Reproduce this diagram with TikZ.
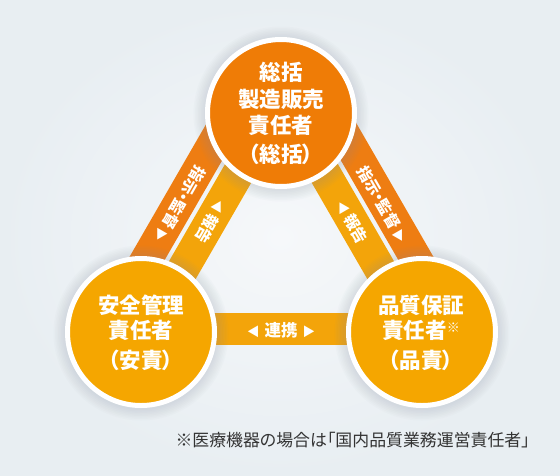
\documentclass[tikz,border=0pt]{standalone}
\usepackage{fontspec}
\newfontfamily\jp{Noto Sans CJK JP}
\newfontfamily\jpp[RawFeature=+palt]{Noto Sans CJK JP}
\definecolor{bgin}{HTML}{F6F8FA}
\definecolor{bgout}{HTML}{E8EEF2}
\definecolor{topc}{HTML}{EF7C06}
\definecolor{botc}{HTML}{F5A600}
\definecolor{oband}{HTML}{EE7D12}
\definecolor{yband}{HTML}{F3A40A}
\definecolor{shad}{HTML}{8C9CAA}
\definecolor{note}{HTML}{333333}
\tikzset{
  person/.style={circle, draw=white, line width=5pt, minimum size=147pt, inner sep=0pt},
  ctext/.style={text=white, font=\jpp\bfseries\fontsize{21.5}{21.5}\selectfont, inner sep=0pt},
  band/.style={line width=32pt, line cap=butt},
  btext/.style={text=white, font=\jpp\bfseries\fontsize{15.5}{16}\selectfont, inner sep=0pt, align=center},
}
\newcommand{\tri}[1]{{\jp\fontsize{12.5}{12.5}\selectfont #1}}
\begin{document}
\begin{tikzpicture}[x=1pt,y=-1pt]
\useasboundingbox (0,0) rectangle (560,475);
\shade[inner color=bgin, outer color=bgout] (0,0) rectangle (560,475);
% band end points
\coordinate (lo1) at (244.3,90);  \coordinate (lo2) at (123.1,300);
\coordinate (ly1) at (286.3,90);  \coordinate (ly2) at (165.1,300);
\coordinate (ro1) at (318.7,90);  \coordinate (ro2) at (439.9,300);
\coordinate (ry1) at (276.7,90);  \coordinate (ry2) at (397.9,300);
\coordinate (hl) at (141,329);    \coordinate (hr) at (422,329);
\draw[band, oband] (lo1) -- (lo2);
\draw[band, yband] (ly1) -- (ly2);
\draw[band, oband] (ro1) -- (ro2);
\draw[band, yband] (ry1) -- (ry2);
\draw[band, yband] (hl) -- (hr);
% shadows
\foreach \c in {(281,114),(141,333),(422,333)}{
  \foreach \r in {77,78.5,80,81.5,83,84.5,86,87.5}{
    \fill[shad, opacity=0.03] \c circle[radius=\r];
  }
}
% circles
\node[person, fill=topc] (top) at (281,113) {};
\node[person, fill=botc] (bl) at (141,332) {};
\node[person, fill=botc] (br) at (422,332) {};
% circle texts
\node[ctext] (t1) at (281,72) {総括};
\node[ctext] (t2) at (281,99) {製造販売};
\node[ctext] (t3) at (281,125) {責任者};
\node[ctext] (t4) at (281,154) {（総括）};
\node[ctext] (l1) at (141,305) {安全管理};
\node[ctext] (l2) at (141,330) {責任者};
\node[ctext] (l3) at (141,360) {（安責）};
\node[ctext] (r1) at (421,305) {品質保証};
\node[ctext] (r2) at (421,330) {責任者\raisebox{6pt}{\jp\fontsize{13}{13}\selectfont ※}};
\node[ctext] (r3) at (421,360) {（品責）};
% band texts
\node[btext, rotate=-120] (lbo) at (180,204) {指示・監督\hspace{3pt}\tri{▶}};
\node[btext, rotate=-120] (lby) at (211,222) {\tri{◀}\hspace{3pt}報告};
\node[btext, rotate=-60] (rbo) at (383,204) {指示・監督\hspace{3pt}\tri{▶}};
\node[btext, rotate=-60] (rby) at (352,222) {\tri{◀}\hspace{3pt}報告};
\node[text=white, font=\jp\bfseries\fontsize{16.5}{16.5}\selectfont, inner sep=0pt] (rk) at (281,330) {\tri{◀}\hspace{5pt}連携\hspace{5pt}\tri{▶}};
% footnote
\node[text=note, font=\jpp\fontsize{16.9}{16.9}\selectfont, anchor=east, inner sep=0pt] (fn) at (530,440) {※医療機器の場合は「国内品質業務運営責任者」};
\end{tikzpicture}
\end{document}
